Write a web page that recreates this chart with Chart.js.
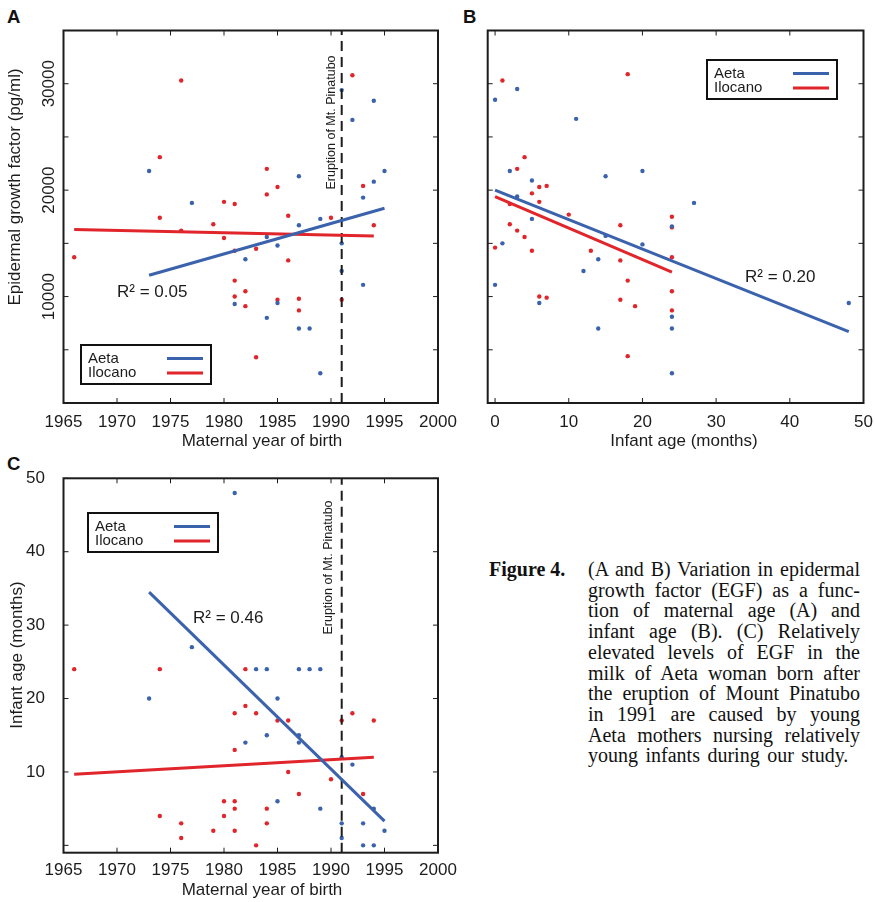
<!DOCTYPE html>
<html>
<head>
<meta charset="utf-8">
<script src="https://cdn.jsdelivr.net/npm/chart.js@4.4.0/dist/chart.umd.min.js"></script>
<style>
  body { margin: 0; background: #fff; width: 875px; height: 902px; position: relative; overflow: hidden; }
  canvas { position: absolute; }
  .panel { position: absolute; font: bold 18.5px "Liberation Sans", Arial, sans-serif; color: #111; }
  .cap { position: absolute; top: 559px; font-family: "Liberation Serif", "Times New Roman", serif; font-size: 20px; line-height: 20.7px; color: #111; }
  .cap.body { left: 588px; width: 272px; }
  .cap.body div { text-align: justify; text-align-last: justify; }
  .cap.body div.last { text-align-last: left; word-spacing: 2.5px; }
</style>
</head>
<body>
<div class="panel" style="left:7px; top:6px">A</div>
<div class="panel" style="left:463px; top:6px">B</div>
<div class="panel" style="left:7px; top:453px">C</div>

<canvas id="chartA" width="470" height="452" style="left:0; top:0"></canvas>
<canvas id="chartB" width="435" height="452" style="left:440px; top:0"></canvas>
<canvas id="chartC" width="470" height="452" style="left:0; top:450px"></canvas>

<div class="cap" style="left:489px; font-weight:bold">Figure 4.</div>
<div class="cap body">
  <div>(A and B) Variation in epidermal</div>
  <div>growth factor (EGF) as a func-</div>
  <div>tion of maternal age (A) and</div>
  <div>infant age (B). (C) Relatively</div>
  <div>elevated levels of EGF in the</div>
  <div>milk of Aeta woman born after</div>
  <div>the eruption of Mount Pinatubo</div>
  <div>in 1991 are caused by young</div>
  <div>Aeta mothers nursing relatively</div>
  <div class="last">young infants during our study.</div>
</div>

<script>
// ---- tick values ----
const yearTicks = [1965, 1970, 1975, 1980, 1985, 1990, 1995, 2000];
const egfTicks = [0, 5000, 10000, 15000, 20000, 25000, 30000, 35000];
const egfTickLabels = [10000, 20000, 30000];
const monthTicks = [0, 10, 20, 30, 40, 50];
const ageTicks = [0, 10, 20, 30, 40, 50];
const ageTickLabels = ['', '10', '20', '30', '40', '50'];
const eruptionYear = 1991;

// ---- A: EGF vs maternal year of birth ----
const aYearAeta = [1991, 1994, 1992, 1973, 1987, 1995, 1994, 1993, 1977, 1989, 1987, 1984, 1985, 1991, 1982, 1991, 1993, 1981, 1985, 1984, 1987, 1988, 1989];
const aEgfAeta = [29400, 28400, 26600, 21800, 21300, 21800, 20800, 19300, 18800, 17300, 16700, 15600, 14800, 15000, 13500, 12400, 11100, 9300, 9400, 8000, 7000, 7000, 2800];
const aYearIlocano = [1976, 1992, 1974, 1984, 1985, 1984, 1993, 1980, 1981, 1974, 1979, 1986, 1990, 1994, 1976, 1966, 1980, 1981, 1983, 1986, 1981, 1982, 1981, 1985, 1987, 1982, 1987, 1991, 1983];
const aEgfIlocano = [30300, 30800, 23100, 22000, 20300, 19600, 20400, 18900, 18700, 17400, 16800, 17600, 17400, 16700, 16200, 13700, 15500, 14300, 14500, 13400, 11500, 10500, 10000, 9700, 9800, 9100, 8700, 9700, 4300];
const aFitAetaX = [1973, 1995];
const aFitAetaY = [12000, 18300];
const aFitIlocanoX = [1966, 1994];
const aFitIlocanoY = [16300, 15700];

// ---- B: EGF vs infant age ----
const bAgeAeta = [0, 3, 11, 2, 20, 15, 5, 3, 27, 5, 24, 15, 1, 20, 14, 12, 0, 6, 48, 24, 14, 24, 24];
const bEgfAeta = [28500, 29500, 26700, 21800, 21800, 21300, 20900, 19400, 18800, 17300, 16600, 15700, 15000, 14900, 13500, 12400, 11100, 9400, 9400, 8100, 7000, 7000, 2800];
const bAgeIlocano = [1, 18, 4, 3, 6, 7, 5, 6, 2, 10, 2, 3, 4, 5, 0, 17, 24, 24, 13, 17, 24, 18, 24, 6, 7, 17, 19, 24, 18];
const bEgfIlocano = [30300, 30900, 23100, 22000, 20300, 20400, 19700, 18900, 18700, 17700, 16800, 16200, 15600, 14300, 14600, 16700, 17500, 16500, 14300, 13400, 13700, 11500, 10500, 10000, 9900, 9700, 9100, 8700, 4400];
const bFitAetaX = [0, 48];
const bFitAetaY = [20000, 6700];
const bFitIlocanoX = [0, 24];
const bFitIlocanoY = [19400, 12300];

// ---- C: infant age vs maternal year of birth ----
const cYearAeta = [1981, 1977, 1983, 1984, 1987, 1988, 1989, 1973, 1985, 1984, 1987, 1982, 1987, 1991, 1992, 1985, 1989, 1994, 1991, 1993, 1995, 1991, 1993, 1994];
const cAgeAeta = [48, 27, 24, 24, 24, 24, 24, 20, 20, 15, 15, 14, 14, 12, 11, 6, 5, 5, 3, 3, 2, 1, 0, 0];
const cYearIlocano = [1966, 1974, 1982, 1982, 1981, 1983, 1992, 1985, 1986, 1991, 1994, 1981, 1986, 1990, 1987, 1993, 1980, 1981, 1981, 1984, 1974, 1980, 1976, 1984, 1979, 1981, 1976, 1983];
const cAgeIlocano = [24, 24, 24, 19, 18, 18, 18, 17, 17, 17, 17, 13, 10, 9, 7, 7, 6, 6, 5, 5, 4, 4, 3, 3, 2, 2, 1, 0];
const cFitAetaX = [1973, 1995];
const cFitAetaY = [34.5, 3.3];
const cFitIlocanoX = [1966, 1994];
const cFitIlocanoY = [9.7, 12.0];

const ink = '#1c1c1c';
const blue = '#3b62ad';
const red = '#e0252b';
const sans = '"Liberation Sans", Arial, Helvetica, sans-serif';

function pts(xs, ys) { return xs.map((x, i) => ({ x, y: ys[i] })); }

function dots(label, xs, ys, color) {
  return { label, data: pts(xs, ys), backgroundColor: color, borderWidth: 0, pointRadius: 2.2, order: 2 };
}
function fit(label, xs, ys, color) {
  return { label, data: pts(xs, ys), showLine: true, borderColor: color, borderWidth: 3, pointRadius: 0, order: 0 };
}
function eruptionLine(yMin, yMax) {
  return { label: 'eruption', data: pts([eruptionYear, eruptionYear], [yMin, yMax]), showLine: true,
    borderColor: ink, borderWidth: 2, borderDash: [10, 6], pointRadius: 0, order: 1 };
}

// frame, inward ticks, titles, legend and notes (matplotlib look)
function figureLayer(fig) {
  return {
    id: 'figure',
    afterDatasetsDraw(chart) {
      const { ctx, chartArea: a } = chart;
      const xs = chart.scales.x, ys = chart.scales.y;
      ctx.save();
      ctx.strokeStyle = ink;
      ctx.lineWidth = 1;
      ctx.beginPath();
      xs.ticks.forEach(t => {
        const p = xs.getPixelForValue(t.value);
        ctx.moveTo(p, a.bottom); ctx.lineTo(p, a.bottom - 5);
        ctx.moveTo(p, a.top); ctx.lineTo(p, a.top + 5);
      });
      ys.ticks.forEach(t => {
        const p = ys.getPixelForValue(t.value);
        ctx.moveTo(a.left, p); ctx.lineTo(a.left + 5, p);
        ctx.moveTo(a.right, p); ctx.lineTo(a.right - 5, p);
      });
      ctx.stroke();
      ctx.lineWidth = 2;
      ctx.strokeRect(a.left, a.top, a.right - a.left, a.bottom - a.top);

      ctx.fillStyle = ink;
      ctx.font = '17px ' + sans;
      ctx.textAlign = 'center';
      ctx.textBaseline = 'middle';

      // rotated y tick labels
      (fig.yRotLabels || []).forEach(v => {
        ctx.save();
        ctx.translate(fig.yRotX, ys.getPixelForValue(v));
        ctx.rotate(-Math.PI / 2);
        ctx.fillText(String(v), 0, 0);
        ctx.restore();
      });

      // axis titles
      ctx.fillText(fig.xTitle, fig.xTitleX, fig.xTitleY);
      if (fig.yTitle) {
        ctx.save();
        ctx.translate(fig.yTitleX, fig.yTitleY);
        ctx.rotate(-Math.PI / 2);
        ctx.fillText(fig.yTitle, 0, 0);
        ctx.restore();
      }

      // R squared
      ctx.textAlign = 'left';
      ctx.fillText(fig.r2, fig.r2X, fig.r2Y);

      // eruption note
      if (fig.eruptionY) {
        ctx.save();
        ctx.font = '12.5px ' + sans;
        ctx.textAlign = 'center';
        ctx.translate(xs.getPixelForValue(eruptionYear) + fig.eruptionDx, fig.eruptionY);
        ctx.rotate(-Math.PI / 2);
        ctx.fillText('Eruption of Mt. Pinatubo', 0, 0);
        ctx.restore();
      }

      // legend box
      const L = fig.legend;
      ctx.fillStyle = '#fff';
      ctx.fillRect(L.x, L.y, 130, 39);
      ctx.lineWidth = 2;
      ctx.strokeStyle = '#111';
      ctx.strokeRect(L.x, L.y, 130, 39);
      ctx.font = '15px ' + sans;
      ctx.fillStyle = ink;
      [['Aeta', blue], ['Ilocano', red]].forEach(([name, col], i) => {
        const yy = L.y + 13.5 + i * 14.5;
        ctx.fillText(name, L.x + 7, yy);
        ctx.strokeStyle = col;
        ctx.lineWidth = 3;
        ctx.beginPath();
        ctx.moveTo(L.x + 86, yy); ctx.lineTo(L.x + 122, yy);
        ctx.stroke();
      });
      ctx.restore();
    }
  };
}

function makePanel(id, p) {
  return new Chart(document.getElementById(id), {
    type: 'scatter',
    data: { datasets: p.datasets },
    options: {
      responsive: false,
      animation: false,
      devicePixelRatio: 1,
      events: [],
      layout: { padding: p.pad },
      plugins: { legend: { display: false }, tooltip: { enabled: false } },
      scales: {
        x: {
          type: 'linear', min: p.xMin, max: p.xMax,
          afterBuildTicks: s => { s.ticks = p.xTicks.map(v => ({ value: v })); },
          afterFit: s => { s.height = p.xAxisH; },
          grid: { display: false }, border: { display: false },
          ticks: { color: ink, font: { family: sans, size: 17 }, padding: p.xTickPad, maxRotation: 0, autoSkip: false,
                   callback: v => String(v) }
        },
        y: {
          type: 'linear', min: p.yMin, max: p.yMax,
          afterBuildTicks: s => { s.ticks = p.yTicks.map(v => ({ value: v })); },
          afterFit: s => { s.width = p.yAxisW; },
          grid: { display: false }, border: { display: false },
          ticks: { display: !!p.yLabels, color: ink, font: { family: sans, size: 17 }, padding: 10.5, autoSkip: false,
                   callback: (v, i) => p.yLabels ? p.yLabels[i] : '' }
        }
      }
    },
    plugins: [figureLayer(p.fig)]
  });
}

makePanel('chartA', {
  datasets: [
    fit('Aeta fit', aFitAetaX, aFitAetaY, blue),
    fit('Ilocano fit', aFitIlocanoX, aFitIlocanoY, red),
    eruptionLine(0, 35000),
    dots('Aeta', aYearAeta, aEgfAeta, blue),
    dots('Ilocano', aYearIlocano, aEgfIlocano, red)
  ],
  xMin: 1965, xMax: 2000, xTicks: yearTicks,
  yMin: 0, yMax: 35000, yTicks: egfTicks,
  pad: { left: 0, top: 30.5, right: 32, bottom: 0 }, xAxisH: 49, yAxisW: 63.5, xTickPad: 1.5,
  fig: {
    yRotLabels: egfTickLabels, yRotX: 49,
    xTitle: 'Maternal year of birth', xTitleX: 262, xTitleY: 441.5,
    yTitle: 'Epidermal growth factor (pg/ml)', yTitleX: 15, yTitleY: 187,
    r2: 'R\u00B2 = 0.05', r2X: 117, r2Y: 292.5,
    eruptionDx: -10.5, eruptionY: 122.5,
    legend: { x: 81, y: 345 }
  }
});

makePanel('chartB', {
  datasets: [
    fit('Aeta fit', bFitAetaX, bFitAetaY, blue),
    fit('Ilocano fit', bFitIlocanoX, bFitIlocanoY, red),
    dots('Aeta', bAgeAeta, bEgfAeta, blue),
    dots('Ilocano', bAgeIlocano, bEgfIlocano, red)
  ],
  xMin: -1, xMax: 50, xTicks: monthTicks,
  yMin: 0, yMax: 35000, yTicks: egfTicks,
  pad: { left: 0, top: 30.5, right: 11.5, bottom: 0 }, xAxisH: 49, yAxisW: 47.7, xTickPad: 1.5,
  fig: {
    xTitle: 'Infant age (months)', xTitleX: 244, xTitleY: 441.5,
    r2: 'R\u00B2 = 0.20', r2X: 305, r2Y: 277,
    legend: { x: 267, y: 60 }
  }
});

makePanel('chartC', {
  datasets: [
    fit('Aeta fit', cFitAetaX, cFitAetaY, blue),
    fit('Ilocano fit', cFitIlocanoX, cFitIlocanoY, red),
    eruptionLine(-1, 50),
    dots('Aeta', cYearAeta, cAgeAeta, blue),
    dots('Ilocano', cYearIlocano, cAgeIlocano, red)
  ],
  xMin: 1965, xMax: 2000, xTicks: yearTicks,
  yMin: -1, yMax: 50, yTicks: ageTicks, yLabels: ageTickLabels,
  pad: { left: 0, top: 28.3, right: 32, bottom: 0 }, xAxisH: 49.3, yAxisW: 63.5, xTickPad: -1,
  fig: {
    xTitle: 'Maternal year of birth', xTitleX: 262, xTitleY: 440,
    yTitle: 'Infant age (months)', yTitleX: 17, yTitleY: 205,
    r2: 'R\u00B2 = 0.46', r2X: 193, r2Y: 168.5,
    eruptionDx: -13, eruptionY: 117.5,
    legend: { x: 88, y: 63 }
  }
});
</script>
</body>
</html>
